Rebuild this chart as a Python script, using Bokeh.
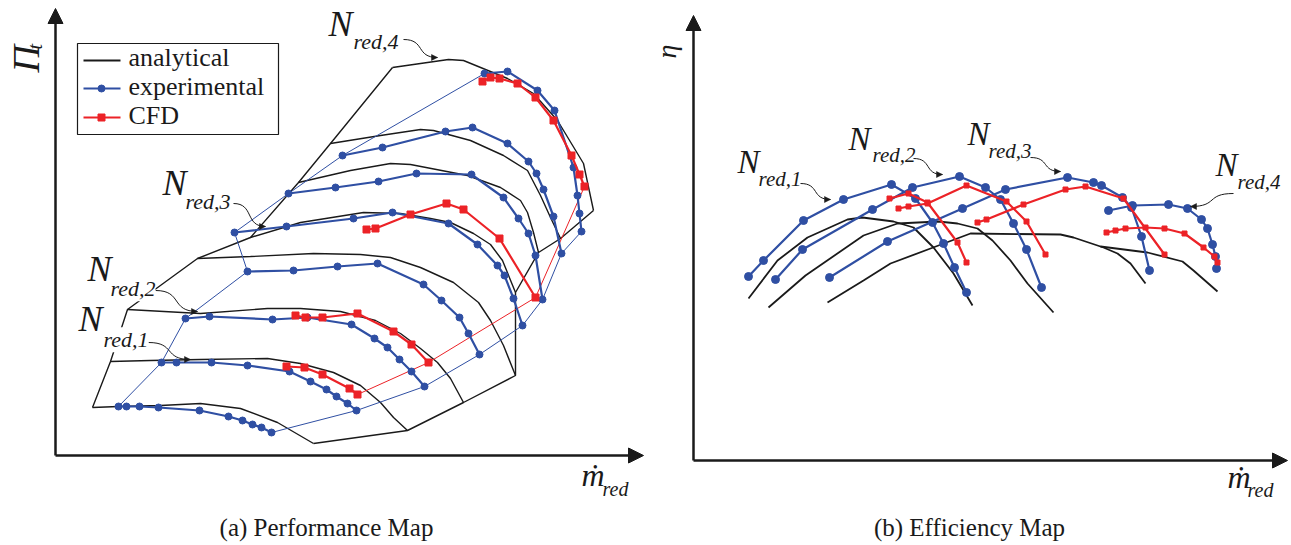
import math
from bokeh.plotting import figure
from bokeh.layouts import row
from bokeh.models import Range1d, Label, Arrow, NormalHead
from bokeh.embed import file_html
from bokeh.resources import INLINE

BLUE = "#2f4fa3"
RED = "#ec2227"
BLACK = "#1a1a1a"
SERIF = "Liberation Serif"

# ------------------------------------------------------------------
# (a) Performance map  (arbitrary units: reduced mass flow / pressure ratio)
# analytical speed lines
PA1_M = [37, 63, 105, 145, 185, 222, 258]
PA1_P = [48, 49, 50, 52, 47, 33, 12]
PA2_M = [55, 95, 145, 212, 245, 278, 305, 325, 338, 352]
PA2_P = [94, 95, 96, 97, 92, 83, 70, 53, 38, 25]
PA3_M = [72, 145, 212, 245, 285, 320, 345, 365, 382, 395, 408]
PA3_P = [146, 142, 147, 147, 144, 135, 122, 107, 93, 77, 53]
PA4_M = [142, 195, 258, 305, 335, 365, 398, 423, 435, 448, 458, 460]
PA4_P = [197, 199, 202, 201, 198, 188, 173, 153, 135, 110, 85, 80]
PA5_M = [195, 245, 308, 345, 375, 395, 418, 435, 447, 460]
PA5_P = [218, 233, 243, 242, 237, 233, 222, 211, 195, 163]
PA6_M = [243, 295, 335, 355, 412, 445, 465, 472, 478, 483]
PA6_P = [273, 285, 292, 291, 280, 268, 255, 243, 223, 203]
PA7_M = [275, 325, 365, 378, 415, 448, 472, 485, 495, 505]
PA7_P = [312, 320, 326, 325, 315, 300, 285, 260, 238, 217]
PA8_M = [337, 393, 408, 452, 478, 502, 528, 538]
PA8_P = [388, 396, 395, 377, 362, 335, 292, 245]
PA_SURGE_M = [37, 55, 72, 120, 142, 195, 243, 275, 337]
PA_SURGE_P = [48, 94, 146, 181, 197, 218, 273, 312, 388]
PA_CHOKE_M = [538, 505, 483, 460, 460, 408, 352, 258]
PA_CHOKE_P = [245, 217, 203, 163, 80, 53, 25, 12]

# experimental speed lines
PE1_M = [63, 71, 84, 103, 144, 173, 187, 197, 206, 216]
PE1_P = [49, 49, 49, 48, 45, 39, 35, 31, 28, 23]
PE2_M = [106, 121, 156, 192, 234, 255, 271, 281, 292, 301]
PE2_P = [93, 93, 93, 90, 84, 74, 66, 59, 52, 45]
PE3_M = [130, 154, 217, 252, 296, 319, 332, 344, 356, 369]
PE3_P = [137, 139, 136, 138, 131, 117, 108, 96, 84, 69]
PE4_M = [192, 238, 282, 322, 368, 386, 404, 413, 424]
PE4_P = [184, 185, 189, 192, 171, 155, 138, 122, 101]
PE5_M = [179, 231, 298, 337, 393, 422, 442, 449, 458, 467]
PE5_P = [223, 229, 237, 243, 232, 211, 190, 180, 157, 130]
PE6_M = [233, 280, 323, 361, 416, 448, 463, 473, 480, 487]
PE6_P = [262, 268, 274, 282, 281, 258, 237, 222, 200, 156]
PE7_M = [287, 327, 390, 417, 452, 473, 481, 488, 498, 506]
PE7_P = [300, 308, 324, 328, 312, 294, 282, 266, 239, 202]
PE8_M = [429, 452, 482, 499, 518, 522, 524, 526]
PE8_P = [382, 384, 365, 345, 288, 260, 242, 224]
PE_SURGE_M = [63, 106, 130, 192, 179, 233, 287, 429]
PE_SURGE_P = [49, 93, 137, 184, 223, 262, 300, 382]
PE_CHOKE_M = [216, 301, 369, 424, 467, 487, 506, 526]
PE_CHOKE_P = [23, 45, 69, 101, 130, 156, 202, 224]

# CFD speed lines
PC1_M = [231, 249, 267, 294, 302]
PC1_P = [89, 88, 81, 67, 61]
PC2_M = [240, 250, 267, 302, 338, 356, 373]
PC2_P = [140, 138, 138, 142, 124, 111, 93]
PC3_M = [311, 320, 355, 391, 408, 444, 480]
PC3_P = [226, 227, 241, 252, 246, 217, 158]
PC4_M = [427, 435, 444, 462, 480, 498, 516, 524, 529]
PC4_P = [374, 378, 377, 372, 358, 335, 300, 281, 269]
PC_CHOKE_M = [302, 373, 480, 529]
PC_CHOKE_P = [61, 93, 158, 269]

# ------------------------------------------------------------------
# (b) Efficiency map (arbitrary units: reduced mass flow / efficiency)
EA1_M = [55, 84, 114, 154, 169, 200, 220, 240, 260, 279]
EA1_E = [162, 200, 223, 241, 243, 239, 233, 213, 187, 155]
EA2_M = [75, 112, 170, 204, 245, 264, 284, 299, 317, 334, 360]
EA2_E = [153, 185, 225, 237, 239, 237, 232, 220, 200, 177, 148]
EA3_M = [134, 170, 197, 237, 277, 367, 380, 410, 424, 437, 452]
EA3_E = [158, 180, 197, 212, 227, 226, 223, 213, 207, 197, 177]
EA4_M = [407, 454, 489, 500, 524]
EA4_E = [214, 208, 199, 190, 169]

EE1_M = [55, 70, 110, 150, 198, 222, 239, 250, 261, 273]
EE1_E = [184, 200, 240, 261, 276, 262, 238, 217, 193, 168]
EE2_M = [82, 109, 179, 219, 266, 292, 307, 320, 333, 348]
EE2_E = [181, 211, 251, 273, 284, 273, 261, 237, 211, 173]
EE3_M = [136, 194, 269, 312, 374, 400, 408, 429, 438, 448, 456]
EE3_E = [183, 219, 252, 271, 283, 278, 275, 263, 253, 224, 190]
EE4_M = [415, 439, 475, 494, 508, 514, 519, 522, 523]
EE4_E = [250, 255, 256, 252, 241, 232, 216, 204, 192]

EC1_M = [196, 215, 234, 264, 273]
EC1_E = [262, 267, 258, 218, 198]
EC2_M = [205, 215, 234, 273, 313, 333, 352]
EC2_E = [252, 254, 257, 275, 259, 239, 206]
EC3_M = [284, 293, 330, 372, 392, 430, 471]
EC3_E = [238, 241, 256, 271, 274, 262, 206]
EC4_M = [413, 422, 432, 452, 471, 491, 510, 521, 524]
EC4_E = [228, 230, 232, 233, 232, 227, 213, 204, 198]

LEGEND_LABELS = ["analytical", "experimental", "CFD"]
SPEED_LABELS = ["red,1", "red,2", "red,3", "red,4"]


def make_fig(width, x0, x1, y0, y1, xmax, ymax):
    p = figure(width=width, height=545, x_range=Range1d(x0, x1), y_range=Range1d(y0, y1),
               output_backend="svg", toolbar_location=None, title=None,
               x_axis_location=None, y_axis_location=None,
               min_border=0, min_border_left=0, min_border_right=0,
               min_border_top=0, min_border_bottom=0)
    p.outline_line_color = None
    p.grid.visible = False
    p.background_fill_color = "white"
    p.border_fill_color = "white"
    head = dict(size=15, fill_color=BLACK, line_color=BLACK, line_width=1)
    # axes drawn as arrows from the origin
    p.add_layout(Arrow(end=NormalHead(**head), x_start=0, y_start=0, x_end=0, y_end=ymax,
                       line_width=2.5, line_color=BLACK))
    p.add_layout(Arrow(end=NormalHead(**head), x_start=0, y_start=0, x_end=xmax, y_end=0,
                       line_width=2.5, line_color=BLACK))
    return p


def lab(p, x, y, text, size, italic=True, align="left", angle=0.0, bg=None):
    # compensate the renderer's baseline offset so (x, y) is the text baseline
    if angle == 0.0:
        y = y + 0.4 * size
    else:
        x = x - 0.25 * size
    l = Label(x=x, y=y, text=text, text_font=SERIF, text_font_size=f"{size}px",
              text_font_style="italic" if italic else "normal", text_align=align,
              text_baseline="alphabetic", angle=angle, text_color=BLACK)
    if bg is not None:
        l.background_fill_color = bg
    p.add_layout(l)


def leader(p, x0, y0, x1, y1):
    dx = x1 - x0
    cx0, cy0 = x0 + 0.65 * dx, y0
    cx1, cy1 = x0 + 0.35 * dx, y1
    p.bezier(x0=[x0], y0=[y0], x1=[x1], y1=[y1], cx0=[cx0], cy0=[cy0], cx1=[cx1], cy1=[cy1],
             line_color=BLACK, line_width=1)
    p.add_layout(Arrow(end=NormalHead(size=6, fill_color=BLACK, line_color=BLACK, line_width=0.5),
                       x_start=x1 - 0.08 * (x1 - cx1), y_start=y1, x_end=x1, y_end=y1,
                       line_width=1, line_color=BLACK))


def exp_line(p, xs, ys, size):
    p.line(xs, ys, line_color=BLUE, line_width=2.2)
    p.scatter(xs, ys, marker="circle", size=size, fill_color=BLUE, line_color=BLUE)


def cfd_line(p, xs, ys, size):
    p.line(xs, ys, line_color=RED, line_width=2.2)
    p.scatter(xs, ys, marker="square", size=size, fill_color=RED, line_color=RED)


# ---------------------------- panel (a) ---------------------------
p1 = make_fig(645, -55, 590, -90, 455, 588, 447)

for xs, ys in [(PA1_M, PA1_P), (PA2_M, PA2_P), (PA3_M, PA3_P), (PA4_M, PA4_P), (PA5_M, PA5_P),
               (PA6_M, PA6_P), (PA7_M, PA7_P), (PA8_M, PA8_P), (PA_SURGE_M, PA_SURGE_P),
               (PA_CHOKE_M, PA_CHOKE_P)]:
    p1.line(xs, ys, line_color=BLACK, line_width=1.4)

p1.line(PE_SURGE_M, PE_SURGE_P, line_color=BLUE, line_width=1)
p1.line(PE_CHOKE_M, PE_CHOKE_P, line_color=BLUE, line_width=1)
p1.line(PC_CHOKE_M, PC_CHOKE_P, line_color=RED, line_width=1)

for xs, ys in [(PE1_M, PE1_P), (PE2_M, PE2_P), (PE3_M, PE3_P), (PE4_M, PE4_P), (PE5_M, PE5_P),
               (PE6_M, PE6_P), (PE7_M, PE7_P), (PE8_M, PE8_P)]:
    exp_line(p1, xs, ys, 7)
for xs, ys in [(PC1_M, PC1_P), (PC2_M, PC2_P), (PC3_M, PC3_P), (PC4_M, PC4_P)]:
    cfd_line(p1, xs, ys, 7)

# legend
p1.quad(left=[22], right=[223], bottom=[321], top=[412], fill_color="white", line_color=BLACK, line_width=1.2)
p1.line([28, 65], [395, 395], line_color=BLACK, line_width=2)
p1.line([28, 65], [367, 367], line_color=BLUE, line_width=2)
p1.scatter([46], [367], marker="circle", size=7, fill_color=BLUE, line_color=BLUE)
p1.line([28, 65], [338, 338], line_color=RED, line_width=2)
p1.scatter([46], [338], marker="square", size=7, fill_color=RED, line_color=RED)
for ty, t in zip([388, 359, 330], LEGEND_LABELS):
    lab(p1, 73, ty, t, 26, italic=False)

# speed labels
for (nx, ny, sx, sy, bg), s in zip([(23, 122, 48, 107, "white"), (32, 172, 55, 158, "white"),
                                    (107, 258, 130, 245, None), (273, 417, 298, 405, None)], SPEED_LABELS):
    lab(p1, nx, ny, "N", 36)
    lab(p1, sx, sy, s, 22, bg=bg)
leader(p1, 93, 113, 135, 96)
leader(p1, 100, 165, 142, 144)
leader(p1, 178, 252, 210, 229)
leader(p1, 348, 416, 382, 398)

# axis titles
lab(p1, -20, 383, "\u03a0", 38, angle=math.pi / 2)
lab(p1, -16, 406, "t", 20, angle=math.pi / 2)
lab(p1, 526, -32, "\u1e41", 32)
lab(p1, 547, -41, "red", 20)
lab(p1, 271, -82, "(a) Performance Map", 25, italic=False, align="center")

# ---------------------------- panel (b) ---------------------------
p2 = make_fig(646, -48, 598, -85, 460, 594, 445)

for xs, ys in [(EA1_M, EA1_E), (EA2_M, EA2_E), (EA3_M, EA3_E), (EA4_M, EA4_E)]:
    p2.line(xs, ys, line_color=BLACK, line_width=1.8)
for xs, ys in [(EE1_M, EE1_E), (EE2_M, EE2_E), (EE3_M, EE3_E), (EE4_M, EE4_E)]:
    exp_line(p2, xs, ys, 8)
for xs, ys in [(EC1_M, EC1_E), (EC2_M, EC2_E), (EC3_M, EC3_E), (EC4_M, EC4_E)]:
    cfd_line(p2, xs, ys, 5)

for (nx, ny, sx, sy), s in zip([(44, 285, 65, 273), (155, 308, 179, 297),
                                (274, 313, 295, 301), (522, 282, 544, 270)], SPEED_LABELS):
    lab(p2, nx, ny, "N", 33)
    lab(p2, sx, sy, s, 21)
leader(p2, 107, 277, 137, 261)
leader(p2, 220, 302, 249, 286)
leader(p2, 337, 303, 367, 289)
leader(p2, 540, 267, 497, 254)

lab(p2, -20, 402, "\u03b7", 28, angle=math.pi / 2)
lab(p2, 534, -29, "\u1e41", 32)
lab(p2, 554, -37, "red", 20)
lab(p2, 276, -77, "(b) Efficiency Map", 25, italic=False, align="center")

layout = row(p1, p2)
open("out.html", "w").write(file_html(layout, INLINE))
